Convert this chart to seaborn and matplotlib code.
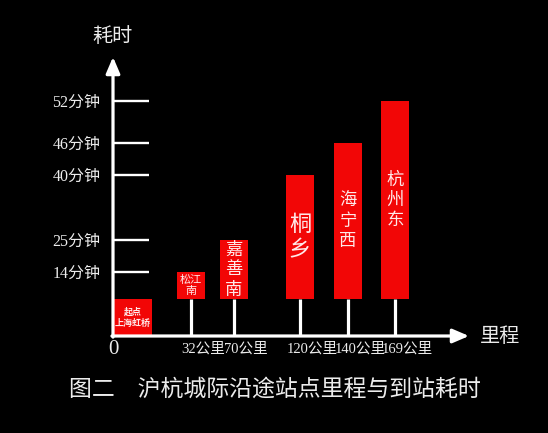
import numpy as np
import matplotlib
matplotlib.use('Agg')
import matplotlib.pyplot as plt
from matplotlib.transforms import ScaledTranslation
import seaborn as sns

# data
stations = ['松江南', '嘉善南', '桐乡', '海宁西', '杭州东']
distance_km = [32, 70, 120, 140, 169]
minutes = [14, 25, 40, 46, 52]
start_name = '起点\n上海虹桥'
x_labels = ['32公里', '70公里', '120公里', '140公里', '169公里']
y_labels = ['14分钟', '25分钟', '40分钟', '46分钟', '52分钟']
title = '图二\u3000沪杭城际沿途站点里程与到站耗时'

# the original axes are not to scale: pixel offset of each mark from the origin
x_px = [0, 78, 121, 187, 235, 282]
y_px = [37, 64, 96, 161, 193, 235]

RED = '#f20606'
FG = '#ececec'


def piecewise(src, dst, lo_slope, hi_slope):
    """Monotone piecewise-linear scale through the anchor points."""
    s = np.r_[src[0] - 1000, src, src[-1] + 1000].astype(float)
    d = np.r_[dst[0] - 1000 * lo_slope, dst, dst[-1] + 1000 * hi_slope].astype(float)
    return (lambda v: np.interp(v, s, d)), (lambda v: np.interp(v, d, s))


sns.set_style('dark', {'axes.facecolor': 'black', 'figure.facecolor': 'black'})
plt.rcParams['font.family'] = ['Liberation Serif', 'Noto Sans CJK SC', 'DejaVu Sans']

fx, ix = piecewise(np.r_[0, distance_km], x_px, 2.44, 1.62)
fy, iy = piecewise(np.r_[0, minutes], y_px, 27 / 14, 7.0)

fig = plt.figure(figsize=(5.48, 4.33), dpi=100)
fig.patch.set_facecolor('black')
ax = fig.add_axes([113 / 548, (433 - 336) / 433, 356 / 548, 279 / 433])
ax.set_facecolor('black')
ax.set_xscale('function', functions=(fx, ix))
ax.set_yscale('function', functions=(fy, iy))
x0, x1 = 0, float(ix(356))
y0, y1 = float(iy(0)), float(iy(279))
ax.set_xlim(x0, x1)
ax.set_ylim(y0, y1)
ax.grid(False)
for sp in ax.spines.values():
    sp.set_visible(False)

# stems from the distance axis up to the bars
ax.vlines(distance_km, y0, 0, colors='white', lw=2.3, zorder=1)

# station bars, 28 px wide, centred on their stems
centers = fx(np.array(distance_km, float))
lefts = ix(centers - 14)
widths = ix(centers + 14) - lefts
ax.bar(lefts, minutes, width=widths, bottom=0, align='edge', color=RED,
       edgecolor='none', linewidth=0, zorder=2)

# start station block sitting on the axis
ax.bar(0, -y0, width=float(ix(39)), bottom=y0, align='edge', color=RED,
       edgecolor='none', linewidth=0, zorder=2)
ax.text(float(ix(19.5)), float(iy(18)), start_name, ha='center', va='center',
        fontsize=6.5, fontweight='bold', color='#ffe8e8', linespacing=1.3,
        family=['Noto Sans CJK SC'], zorder=3)

sizes = [8, 12.5, 16, 12.5, 12.5]
for km, m, name, fs in zip(distance_km, minutes, stations, sizes):
    txt = '松江\n南' if name == '松江南' else '\n'.join(name)
    ymid = float(iy((fy(0) + fy(m)) / 2))
    ax.text(km, ymid, txt, ha='center', va='center', fontsize=fs,
            color='#ffe8e8', linespacing=1.15, family=['Noto Sans CJK SC'], zorder=3)

# y ticks drawn as white bars reaching into the plot
ax.set_yticks(minutes, y_labels)
ax.tick_params(axis='y', left=True, direction='in', length=26, width=1.7, color='white',
               labelcolor=FG, labelsize=11.5, pad=9)
ax.set_xticks([])

# distance labels under the axis
off = ScaledTranslation(12 / 100, -13 / 100, fig.dpi_scale_trans)
for km, lab in zip(distance_km, x_labels):
    ax.text(km, 0, lab, transform=ax.get_xaxis_transform() + off,
            ha='center', va='center', fontsize=10.5, color=FG)
ax.text(0, 0, '0', transform=ax.get_xaxis_transform() + ScaledTranslation(0, -13 / 100, fig.dpi_scale_trans),
        ha='center', va='center', fontsize=15, color=FG)

# axis arrows
arrow = dict(arrowstyle='-|>,head_length=0.7,head_width=0.3', color='white', lw=2.3,
             shrinkA=0, shrinkB=0, mutation_scale=14)
ax.annotate('', xy=(1, 0), xytext=(-0.003, 0), xycoords='axes fraction', arrowprops=arrow)
ax.annotate('', xy=(0, 1), xytext=(0, -0.004), xycoords='axes fraction', arrowprops=arrow)

fig.text(112 / 548, 1 - 38 / 433, '耗时', ha='center', va='center', fontsize=14.5, color=FG)
fig.text(500 / 548, 1 - 338 / 433, '里程', ha='center', va='center', fontsize=14.5, color=FG)
fig.text(275 / 548, 1 - 390 / 433, title, ha='center', va='center', fontsize=16.5, color=FG)

fig.savefig('out.png', dpi=100, facecolor='black')
